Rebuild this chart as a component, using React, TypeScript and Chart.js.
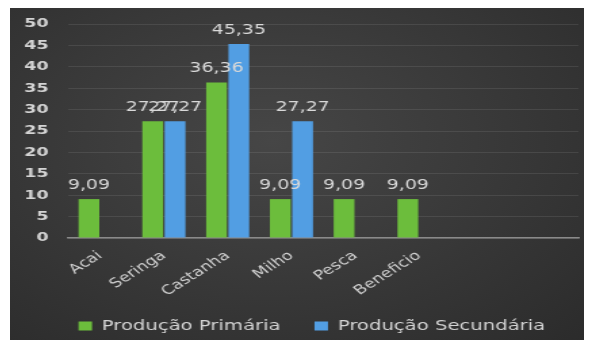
import React, { useEffect, useRef } from "react";
import { Chart, registerables } from "chart.js";

Chart.register(...registerables);

const categories = ["Acai", "Seringa", "Castanha", "Milho", "Pesca", "Beneficio", "", ""];
const primaria = [9.09, 27.27, 36.36, 9.09, 9.09, 9.09, null, null];
const secundaria = [null, 27.27, 45.35, 27.27, null, null, null, null];
const yTicks = [0, 5, 10, 15, 20, 25, 30, 35, 40, 45, 50];
const seriesNames = ["Produção Primária", "Produção Secundária"];

const FONT = "'DejaVu Sans', sans-serif";
// the reference image is a horizontally stretched screenshot:
// the chart is drawn on a narrower canvas and stretched with CSS
const INNER_W = 430;
const OUTER_W = 582;
const H = 332;

const valueLabels = {
  id: "valueLabels",
  afterDatasetsDraw(chart: any) {
    const ctx = chart.ctx;
    ctx.save();
    ctx.fillStyle = "#d9d9d9";
    ctx.font = "14px " + FONT;
    ctx.textAlign = "center";
    ctx.textBaseline = "alphabetic";
    chart.data.datasets.forEach((ds: any, di: number) => {
      const meta = chart.getDatasetMeta(di);
      meta.data.forEach((el: any, i: number) => {
        const v = ds.data[i];
        if (v === null || v === undefined) return;
        ctx.fillText(v.toFixed(2).replace(".", ","), el.x, el.y - 10);
      });
    });
    ctx.restore();
  },
};

const layoutTweak = {
  id: "layoutTweak",
  afterLayout(chart: any) {
    const lg = chart.legend;
    if (lg) {
      lg.left += 8;
      lg.right += 8;
      lg.top += 3.25;
      lg.bottom += 3.25;
    }
    const x = chart.scales.x;
    if (x) {
      // let rotated tick labels extend below the axis box without clipping
      x.bottom += 45;
    }
  },
};

export default function App() {
  const ref = useRef<HTMLCanvasElement>(null);
  useEffect(() => {
    if (!ref.current) return;
    const chart = new Chart(ref.current, {
      type: "bar",
      data: {
        labels: categories,
        datasets: [
          {
            label: seriesNames[0],
            data: primaria,
            backgroundColor: "#6cbd3c",
            categoryPercentage: 0.7,
            barPercentage: 0.93,
          },
          {
            label: seriesNames[1],
            data: secundaria,
            backgroundColor: "#529ee3",
            categoryPercentage: 0.7,
            barPercentage: 0.93,
          },
        ],
      },
      options: {
        animation: false,
        responsive: false,
        maintainAspectRatio: false,
        layout: { padding: { left: 0, right: 0, top: 16, bottom: 0 } },
        scales: {
          x: {
            grid: { display: false },
            border: { display: true, color: "#8a8a8a", width: 1.5 },
            ticks: {
              color: "#cfcfcf",
              font: { family: FONT, size: 13 },
              maxRotation: 40,
              minRotation: 40,
              autoSkip: false,
              padding: 2,
            },
            afterFit(scale: any) {
              scale.paddingLeft = 0;
              scale.paddingRight = 10;
              scale.height = 52.5;
            },
          },
          y: {
            min: 0,
            max: 50,
            afterBuildTicks(axis: any) {
              axis.ticks = yTicks.map((v) => ({ value: v }));
            },
            afterFit(scale: any) {
              scale.width = 43;
              scale.paddingTop = 0;
              scale.paddingBottom = 0;
            },
            grid: { color: "rgba(255,255,255,0.09)", drawTicks: false },
            border: { display: false },
            ticks: {
              color: "#d4d4d4",
              font: { family: FONT, size: 13, weight: "bold" },
              padding: 14.5,
            },
          },
        },
        plugins: {
          legend: {
            position: "bottom",
            labels: {
              color: "#d4d4d4",
              font: { family: FONT, size: 14.5 },
              boxWidth: 10,
              boxHeight: 9,
              padding: 25,
            },
          },
          tooltip: { enabled: false },
        },
      },
      plugins: [valueLabels, layoutTweak],
    });
    return () => chart.destroy();
  }, []);
  return (
    <div
      style={{
        marginLeft: 2,
        width: OUTER_W,
        height: H,
        background: "radial-gradient(ellipse at 45% 40%, #464646 0%, #3a3a3a 45%, #2b2b2b 100%)",
      }}
    >
      <canvas
        ref={ref}
        width={INNER_W}
        height={H}
        style={{ display: "block", width: OUTER_W + "px", height: H + "px" }}
      />
    </div>
  );
}
